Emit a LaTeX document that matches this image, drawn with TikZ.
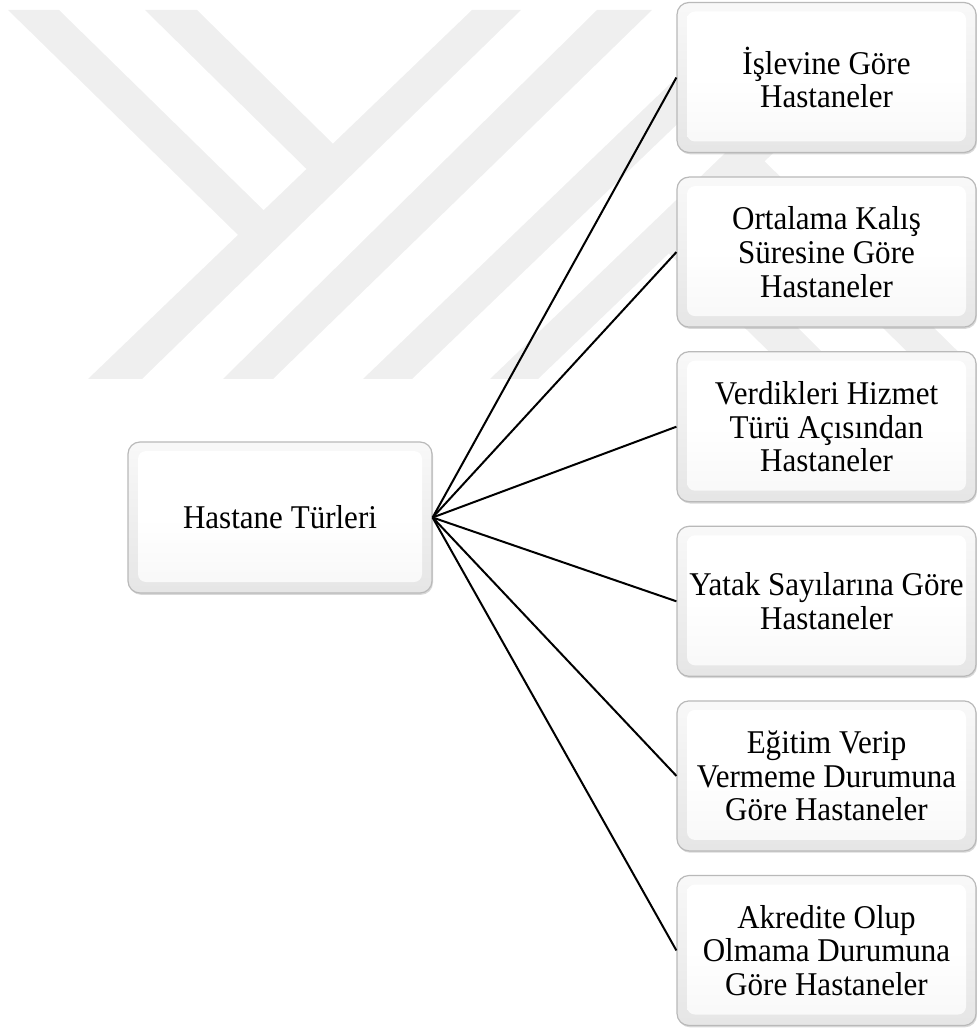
\documentclass[tikz,border=0pt]{standalone}
\usepackage{fontspec}
\setmainfont{Liberation Serif}[FakeStretch=0.935]
\usetikzlibrary{shadows}
\definecolor{markgray}{RGB}{239,239,239}
\begin{document}
\begin{tikzpicture}[x=0.5pt,y=-0.5pt,
  card/.style={rounded corners=6pt, minimum width=149.5pt, minimum height=75pt,
    align=center, font={\fontsize{16.6}{16.8}\selectfont},
    draw=gray!55, line width=0.6pt,
    top color=gray!5, bottom color=gray!20,
    drop shadow={opacity=0.3, shadow xshift=0.5pt, shadow yshift=-0.9pt},
    path picture={
      \shade[rounded corners=4pt, top color=white, bottom color=gray!6, middle color=white]
        ([shift={(5pt,-4.5pt)}]path picture bounding box.north west)
        rectangle ([shift={(-5pt,5.5pt)}]path picture bounding box.south east);
    }},
  conn/.style={draw=black, line width=1pt}]
\useasboundingbox (0,0) rectangle (976,1031);

% faint emblem in the background
\begin{scope}
  \clip (0,0) rectangle (976,1031);
  \fill[markgray] (88,379) -- (142,379) -- (521,10) -- (472,10) -- cycle;
  \fill[markgray] (8,10) -- (59,10) -- (276.5,222.8) -- (250.9,247.5) -- cycle;
  \fill[markgray] (145,10) -- (197,10) -- (345.5,156.1) -- (319.2,181.5) -- cycle;
  \fill[markgray] (223,379) -- (273,379) -- (652,10) -- (597,10) -- cycle;
  \fill[markgray] (363,379) -- (412,379) -- (796,10) -- (747,10) -- cycle;
  \fill[markgray] (490,379) -- (538,379) -- (922,10) -- (874,10) -- cycle;
  \fill[markgray] (849,379) -- (797,379) -- (650,235) -- (678,208) -- cycle;
  \fill[markgray] (986,379) -- (935,379) -- (720,168) -- (746,143) -- cycle;
\end{scope}

% root and categories
\node[card, minimum width=152pt, minimum height=75.5pt] (root) at (280,517.5) {Hastane Türleri};
\node[card] (b1) at (826.5,77.5)  {İşlevine Göre\\Hastaneler};
\node[card] (b2) at (826.5,252.1) {Ortalama Kalış\\Süresine Göre\\Hastaneler};
\node[card] (b3) at (826.5,426.7) {Verdikleri Hizmet\\Türü Açısından\\Hastaneler};
\node[card] (b4) at (826.5,601.3) {Yatak Sayılarına Göre\\Hastaneler};
\node[card] (b5) at (826.5,775.9) {Eğitim Verip\\Vermeme Durumuna\\Göre Hastaneler};
\node[card] (b6) at (826.5,950.5) {Akredite Olup\\Olmama Durumuna\\Göre Hastaneler};

% connectors
\foreach \b in {b1,b2,b3,b4,b5,b6}
  \draw[conn] (root.east) -- (\b.west);
\end{tikzpicture}
\end{document}
